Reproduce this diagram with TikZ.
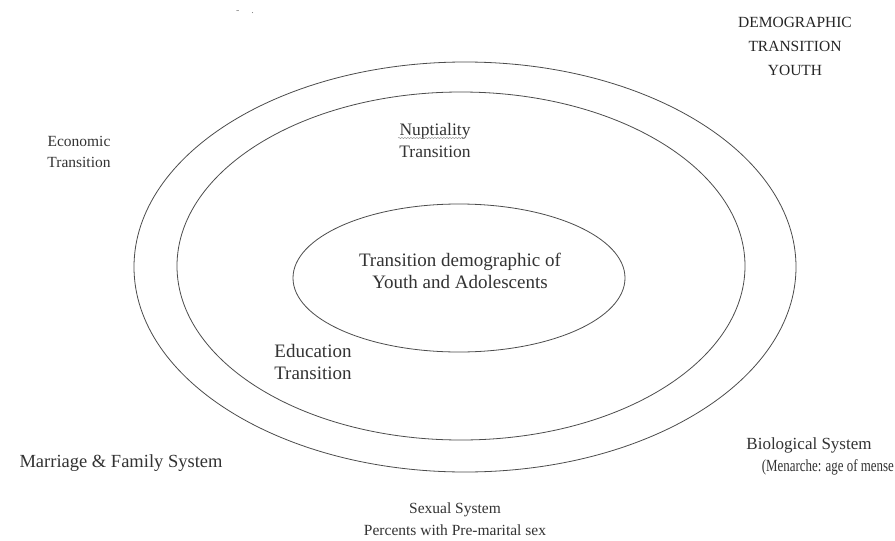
\documentclass[tikz,border=0pt]{standalone}
\usepackage{fontspec}
\setmainfont{Liberation Serif}
\usetikzlibrary{decorations.pathmorphing}
\tikzset{
  ring/.style={draw=black!70, line width=0.8pt},
  lbl/.style={font=\fontsize{16}{21}\selectfont, text=black!80, align=center, inner sep=0pt},
  headlbl/.style={font=\fontsize{15.5}{24}\selectfont, text=black!85, align=center, inner sep=0pt}
}
\begin{document}
\begin{tikzpicture}[x=1pt,y=-1pt]
\fill[white] (0,0) rectangle (895,541);
\useasboundingbox (0,0) rectangle (895,541);
% ellipses
\draw[ring] (465,267) ellipse [x radius=331, y radius=205];
\draw[ring] (461,266) ellipse [x radius=284, y radius=174];
\draw[ring] (459,278) ellipse [x radius=166, y radius=74];
% texts
\node[lbl, font=\fontsize{19}{22}\selectfont] (center) at (460,271) {Transition demographic of\\Youth and Adolescents};
\node[lbl, font=\fontsize{17.5}{22}\selectfont] (nup) at (435,141) {Nuptiality\\Transition};
\coordinate (nupa) at (398,138);
\coordinate (nupb) at (466,138);
\draw[black!45, line width=0.4pt, decorate, decoration={snake, amplitude=0.6pt, segment length=3pt}] (nupa) -- (nupb);
\node[lbl, font=\fontsize{15.5}{21}\selectfont] (econ) at (79,152) {Economic\\Transition};
\node[lbl, font=\fontsize{19}{22}\selectfont] (edu) at (313,362) {Education\\Transition};
\node[lbl, font=\fontsize{18.5}{22}\selectfont] (mar) at (121,463) {Marriage \& Family System};
\node[lbl, font=\fontsize{17}{22}\selectfont] (bio) at (809,445) {Biological System};
\node[lbl, anchor=east, font=\fontsize{17}{22}\selectfont] (men) at (894,467) {\scalebox{0.76}[1]{(Menarche: age of mense}};
\node[lbl, font=\fontsize{15.5}{22}\selectfont] (sex) at (455,519) {Sexual System\\Percents with Pre-marital sex};
\node[headlbl] (demo) at (795,46) {DEMOGRAPHIC\\TRANSITION\\YOUTH};
\node[text=black!50, font=\fontsize{10}{10}\selectfont, inner sep=0pt] (mark) at (245,12) {-\hspace{12pt}.};
\end{tikzpicture}
\end{document}
